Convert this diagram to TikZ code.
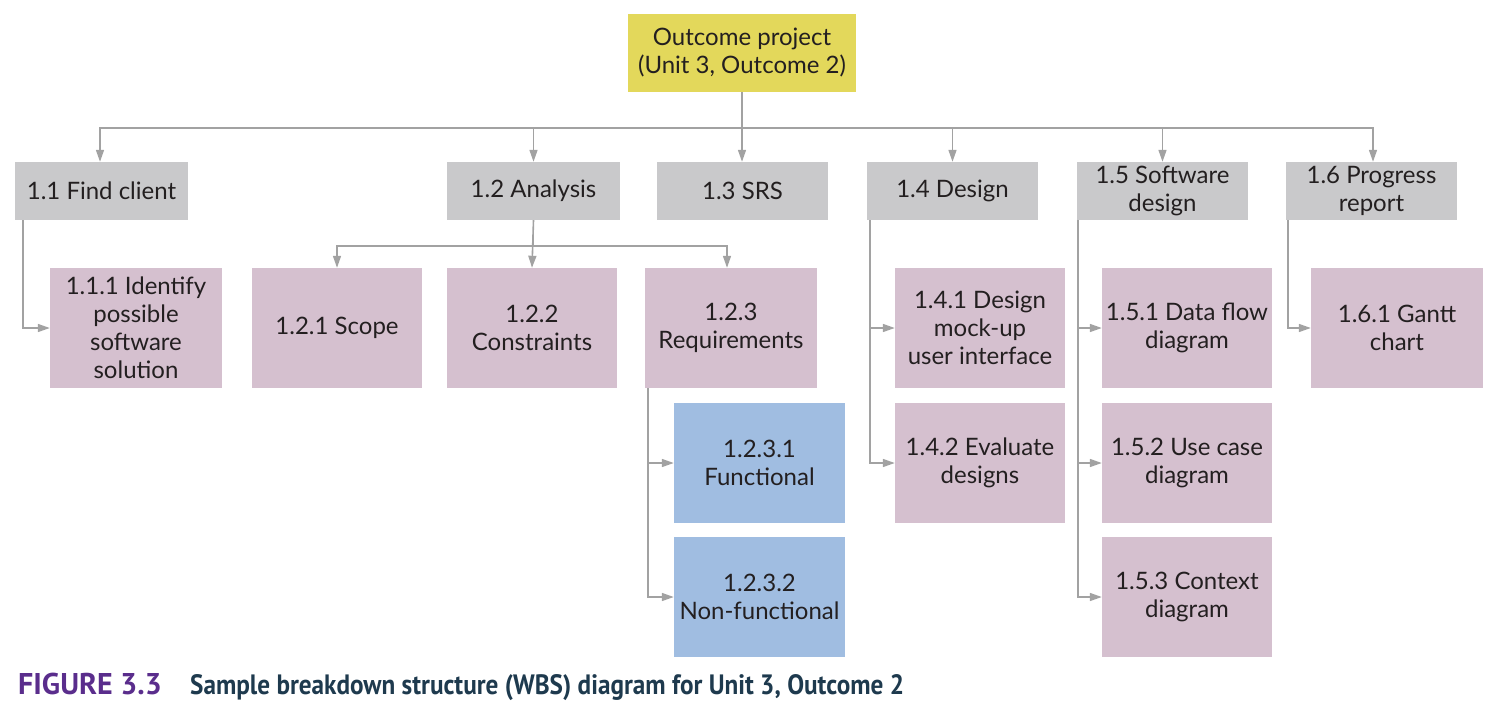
\documentclass[tikz,border=0pt]{standalone}
\usepackage{fontspec}
\setmainfont{Lato}
\newfontfamily\capfont{PT Sans}
\newfontfamily\capfontn[FakeStretch=0.9]{PT Sans}
\usetikzlibrary{arrows.meta}
\definecolor{ygold}{HTML}{E3D85B}
\definecolor{lgray}{HTML}{C9C9CB}
\definecolor{pinkb}{HTML}{D5C0CF}
\definecolor{blueb}{HTML}{A0BDE1}
\definecolor{linec}{HTML}{A2A2A2}
\definecolor{purp}{HTML}{5A2D8C}
\definecolor{navy}{HTML}{1E3A4E}
\definecolor{txt}{HTML}{231F20}
\tikzset{
  box/.style={inner sep=0pt, align=center, text=txt, font=\fontsize{24}{28}\selectfont},
  graybox/.style={box, fill=lgray},
  pinkbox/.style={box, fill=pinkb},
  bluebox/.style={box, fill=blueb},
  conn/.style={draw=linec, line width=1.6pt, -{Triangle[length=12pt,width=8pt]}},
}
\begin{document}
\begin{tikzpicture}[x=1pt,y=-1pt]
\useasboundingbox (0,0) rectangle (1500,704);
% top
\node[box, fill=ygold, minimum width=228pt, minimum height=78pt] (top) at (742,53) {Outcome project\\(Unit 3, Outcome 2)};
% level 1
\node[graybox, minimum width=173pt, minimum height=58pt] (n11) at (101.5,191) {1.1 Find client};
\node[graybox, minimum width=173pt, minimum height=58pt] (n12) at (533.5,191) {1.2 Analysis};
\node[graybox, minimum width=171pt, minimum height=58pt] (n13) at (742.5,191) {1.3 SRS};
\node[graybox, minimum width=171pt, minimum height=58pt] (n14) at (952.5,191) {1.4 Design};
\node[graybox, minimum width=171pt, minimum height=58pt] (n15) at (1162.5,191) {1.5 Software\\design};
\node[graybox, minimum width=171pt, minimum height=58pt] (n16) at (1371.5,191) {1.6 Progress\\report};
% level 2
\node[pinkbox, minimum width=172pt, minimum height=120pt] (n111) at (136,328) {1.1.1 Identify\\possible\\software\\solution};
\node[pinkbox, minimum width=170pt, minimum height=120pt] (n121) at (337,328) {1.2.1 Scope};
\node[pinkbox, minimum width=170pt, minimum height=120pt] (n122) at (532,328) {1.2.2\\Constraints};
\node[pinkbox, minimum width=172pt, minimum height=120pt] (n123) at (731,328) {1.2.3\\Requirements};
\node[bluebox, minimum width=171pt, minimum height=120pt] (n1231) at (759.5,463) {1.2.3.1\\Functional};
\node[bluebox, minimum width=171pt, minimum height=120pt] (n1232) at (759.5,597) {1.2.3.2\\Non-functional};
\node[pinkbox, minimum width=170pt, minimum height=120pt] (n141) at (980,328) {1.4.1 Design\\mock-up\\user interface};
\node[pinkbox, minimum width=170pt, minimum height=120pt] (n142) at (980,463) {1.4.2 Evaluate\\designs};
\node[pinkbox, minimum width=170pt, minimum height=120pt] (n151) at (1187,328) {1.5.1 Data flow\\diagram};
\node[pinkbox, minimum width=170pt, minimum height=120pt] (n152) at (1187,463) {1.5.2 Use case\\diagram};
\node[pinkbox, minimum width=170pt, minimum height=120pt] (n153) at (1187,597) {1.5.3 Context\\diagram};
\node[pinkbox, minimum width=172pt, minimum height=120pt] (n161) at (1397,328) {1.6.1 Gantt\\chart};
% connectors level 1
\draw[conn] (top.south) -- ++(0,36) -| ([xshift=-1.5pt]n11.north);
\draw[conn] (top.south) -- ++(0,36) -| (n12.north);
\draw[conn] (top.south) -- (top.south |- n13.north);
\draw[conn] (top.south) -- ++(0,36) -| (n14.north);
\draw[conn] (top.south) -- ++(0,36) -| (n15.north);
\draw[conn] (top.south) -- ++(0,36) -| ([xshift=1.5pt]n16.north);
% 1.1
\draw[conn] ([xshift=8pt]n11.south west) |- (n111.west);
% 1.2
\draw[conn] (n12.south) -- ++(0,26) -| (n121.north);
\draw[conn] (n12.south) -- (n122.north);
\draw[conn] (n12.south) -- ++(0,26) -| ([xshift=-4pt]n123.north);
% 1.2.3
\draw[conn] ([xshift=3pt]n123.south west) |- (n1231.west);
\draw[conn] ([xshift=3pt]n123.south west) |- (n1232.west);
% 1.4
\draw[conn] ([xshift=3pt]n14.south west) |- (n141.west);
\draw[conn] ([xshift=3pt]n14.south west) |- (n142.west);
% 1.5
\draw[conn] ([xshift=1pt]n15.south west) |- (n151.west);
\draw[conn] ([xshift=1pt]n15.south west) |- (n152.west);
\draw[conn] ([xshift=1pt]n15.south west) |- (n153.west);
% 1.6
\draw[conn] ([xshift=2pt]n16.south west) |- (n161.west);
% caption
\node[anchor=base west, inner sep=0pt, text=purp, font=\capfont\bfseries\fontsize{30}{32}\selectfont] (figlab) at (18,694) {FIGURE 3.3};
\node[anchor=base west, inner sep=0pt, text=navy, font=\capfontn\bfseries\fontsize{28}{32}\selectfont] (figcap) at (190,694) {Sample breakdown structure (WBS) diagram for Unit 3, Outcome 2};
\end{tikzpicture}
\end{document}
